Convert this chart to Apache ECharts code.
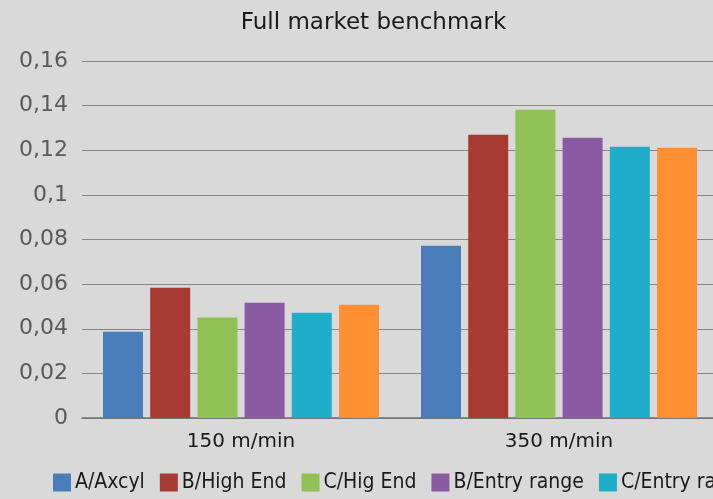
<!DOCTYPE html>
<html>
<head>
<meta charset="utf-8">
<script src="https://cdn.jsdelivr.net/npm/echarts@6/dist/echarts.min.js"></script>
<style>
  html, body { margin: 0; padding: 0; background: #d9d9d9; }
  #wrap { width: 713px; height: 499px; overflow: hidden; position: relative; }
  #chart { width: 747px; height: 499px; }
</style>
</head>
<body>
<div id="wrap"><div id="chart"></div></div>
<script>
// Speed categories
const categories = ['150 m/min', '350 m/min'];

// One array per supplier / range
const seriesNames = ['A/Axcyl', 'B/High End', 'C/Hig End', 'B/Entry range', 'C/Entry range', 'D/Entry range'];
const aAxcyl      = [0.0387, 0.0772];
const bHighEnd    = [0.0584, 0.1270];
const cHigEnd     = [0.0450, 0.1382];
const bEntryRange = [0.0517, 0.1256];
const cEntryRange = [0.0472, 0.1216];
const dEntryRange = [0.0508, 0.1211];
const seriesValues = [aAxcyl, bHighEnd, cHigEnd, bEntryRange, cEntryRange, dEntryRange];

const seriesColors = ['#4a7ebb', '#a83a34', '#8fc155', '#8a5ba3', '#1faec9', '#ff8f33'];

// Value axis tick labels (decimal comma)
const yTickLabels = ['0', '0,02', '0,04', '0,06', '0,08', '0,1', '0,12', '0,14', '0,16'];
const yStep = 0.02;

const condensed = "'DejaVu Sans Condensed', 'Liberation Sans Narrow', 'Roboto Condensed', 'DejaVu Sans', sans-serif";

const chart = echarts.init(document.getElementById('chart'), null, { width: 747, height: 499 });

chart.setOption({
  backgroundColor: '#d9d9d9',
  animation: false,
  title: {
    text: 'Full market benchmark',
    left: 'center',
    top: 7,
    textStyle: { fontFamily: 'DejaVu Sans', fontSize: 23, fontWeight: 'normal', color: '#1a1a1a' }
  },
  legend: {
    data: seriesNames,
    left: 53,
    top: 472,
    padding: 0,
    width: 1400,
    itemWidth: 18,
    itemHeight: 18,
    itemGap: 15,
    icon: 'rect',
    textStyle: { fontFamily: condensed, fontSize: 21, color: '#1a1a1a', padding: [0, 0, 0, -1] }
  },
  grid: { left: 82, right: 29, top: 61, bottom: 81, containLabel: false },
  xAxis: {
    type: 'category',
    data: categories,
    axisLine: { lineStyle: { color: '#707070', width: 1.5 } },
    axisTick: { show: false },
    axisLabel: { fontFamily: 'DejaVu Sans', fontSize: 20, color: '#1a1a1a', margin: 14 }
  },
  yAxis: {
    type: 'value',
    min: 0,
    max: 0.16,
    interval: yStep,
    axisLine: { show: false },
    axisTick: { show: false },
    splitLine: { lineStyle: { color: '#878787', width: 1.2 } },
    axisLabel: {
      fontFamily: 'DejaVu Sans',
      fontSize: 22,
      color: '#595959',
      margin: 14,
      formatter: (v) => yTickLabels[Math.round(v / yStep)]
    }
  },
  series: seriesNames.map((name, i) => ({
    name,
    type: 'bar',
    data: seriesValues[i],
    barWidth: 40,
    barGap: '18%',
    itemStyle: { color: seriesColors[i] }
  }))
});
</script>
</body>
</html>
